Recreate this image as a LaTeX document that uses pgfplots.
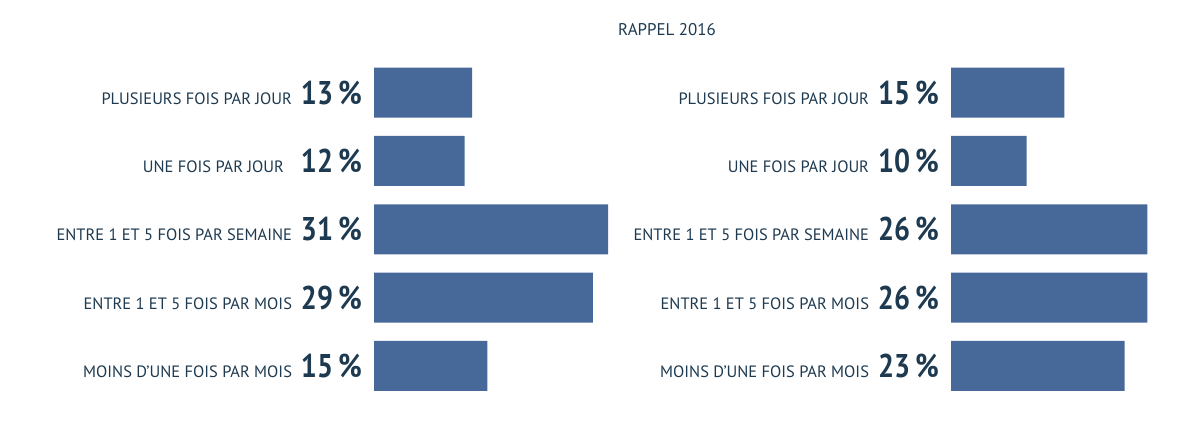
\documentclass[border=0pt]{standalone}
\usepackage{pgfplots}
\pgfplotsset{compat=1.18}
\usepackage{fontspec}
\setmainfont{PT Sans}
\definecolor{barc}{HTML}{46699A}
\definecolor{txt}{HTML}{1E3A50}
\newcommand{\lab}[2]{{\fontsize{16.5}{16.5}\selectfont #1}\hspace{9bp}{\bfseries\fontsize{33}{33}\selectfont\addfontfeature{FakeStretch=0.86}#2\hspace{5bp}\%}}
\pgfplotsset{
  barpanel/.style={
    xbar, scale only axis, enlarge x limits=false,
    xmin=0, ymin=-0.5, ymax=4.5, y dir=reverse,
    height=341.5bp, anchor=south west,
    axis line style={draw=none}, major tick length=0pt,
    xtick=\empty, ytick={0,1,2,3,4},
    yticklabel style={anchor=east, inner sep=0pt, xshift=-12bp, text=txt},
    bar width=50bp,
  }
}
\begin{document}
\begin{tikzpicture}[x=1bp,y=1bp]
\path[use as bounding box] (0,0) rectangle (1197,427);
\begin{axis}[barpanel, at={(374bp,27bp)}, xmax=31, width=234.05bp,
  yticklabels={\lab{PLUSIEURS FOIS PAR JOUR}{13},\lab{UNE FOIS PAR JOUR\hspace{8bp}}{12},\lab{ENTRE 1 ET 5 FOIS PAR SEMAINE}{31},\lab{ENTRE 1 ET 5 FOIS PAR MOIS}{29},\lab{MOINS D’UNE FOIS PAR MOIS}{15}}]
\addplot[fill=barc, draw=none] coordinates {(13,0) (12,1) (31,2) (29,3) (15,4)};
\end{axis}
\begin{axis}[barpanel, at={(951bp,27bp)}, xmax=26, width=196.3bp,
  yticklabels={\lab{PLUSIEURS FOIS PAR JOUR}{15},\lab{UNE FOIS PAR JOUR}{10},\lab{ENTRE 1 ET 5 FOIS PAR SEMAINE}{26},\lab{ENTRE 1 ET 5 FOIS PAR MOIS}{26},\lab{MOINS D’UNE FOIS PAR MOIS}{23}}]
\addplot[fill=barc, draw=none] coordinates {(15,0) (10,1) (26,2) (26,3) (23,4)};
\end{axis}
\node[text=txt, font=\fontsize{17}{17}\selectfont] at (667,397) {RAPPEL 2016};
\end{tikzpicture}
\end{document}
